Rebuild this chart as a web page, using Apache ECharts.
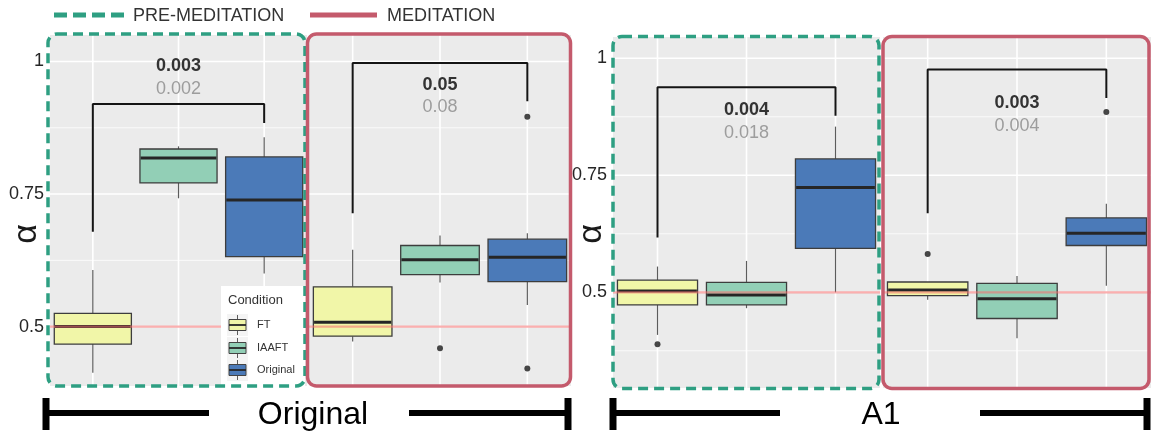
<!DOCTYPE html>
<html>
<head>
<meta charset="utf-8">
<script src="https://cdn.jsdelivr.net/npm/echarts@6/dist/echarts.min.js"></script>
<style>
  html, body { margin: 0; padding: 0; background: #ffffff; }
  #chart { width: 1151px; height: 434px; }
</style>
</head>
<body>
<div id="chart"></div>
<script>
// ---- data ----------------------------------------------------------------
const conditions = ['FT', 'IAAFT', 'Original'];
const phases = ['PRE-MEDITATION', 'MEDITATION'];
const signals = ['Original', 'A1'];
const yTickValues = [0.5, 0.75, 1];
const yGridValues = [0.375, 0.5, 0.625, 0.75, 0.875, 1];
const chanceLevel = 0.5;

// box statistics per condition: [lower whisker, Q1, median, Q3, upper whisker]
const originalPreBoxes = [
  [0.413, 0.467, 0.500, 0.525, 0.607],
  [0.742, 0.771, 0.818, 0.835, 0.840],
  [0.600, 0.632, 0.739, 0.820, 0.857]
];
const originalMedBoxes = [
  [0.472, 0.482, 0.508, 0.575, 0.645],
  [0.583, 0.598, 0.626, 0.653, 0.672],
  [0.541, 0.585, 0.631, 0.665, 0.676]
];
const a1PreBoxes = [
  [0.409, 0.473, 0.503, 0.526, 0.555],
  [0.466, 0.473, 0.494, 0.521, 0.567],
  [0.500, 0.594, 0.724, 0.785, 0.854]
];
const a1MedBoxes = [
  [0.484, 0.493, 0.505, 0.522, 0.522],
  [0.402, 0.444, 0.486, 0.519, 0.535],
  [0.514, 0.600, 0.626, 0.659, 0.689]
];

// outliers: [condition, value]
const originalPreOutliers = [];
const originalMedOutliers = [['IAAFT', 0.459], ['Original', 0.896], ['Original', 0.421]];
const a1PreOutliers = [['FT', 0.389]];
const a1MedOutliers = [['FT', 0.582], ['Original', 0.885]];

// FT vs Original comparison bracket: [FT end, bar level, Original end]
const originalPreBracket = [0.679, 0.920, 0.884];
const originalMedBracket = [0.714, 0.997, 0.925];
const a1PreBracket = [0.617, 0.938, 0.877];
const a1MedBracket = [0.669, 0.976, 0.915];

// p-values of the comparison (first: bold, second: grey) and where they sit
const originalPrePValues = ['0.003', '0.002'];
const originalMedPValues = ['0.05', '0.08'];
const a1PrePValues = ['0.004', '0.018'];
const a1MedPValues = ['0.003', '0.004'];
const originalPrePLevels = [0.991, 0.949];
const originalMedPLevels = [0.956, 0.914];
const a1PrePLevels = [0.890, 0.841];
const a1MedPLevels = [0.905, 0.855];

// ---- styling -------------------------------------------------------------
const FONT = '"Liberation Sans", Arial, sans-serif';
const GREEN = '#2e9f82';
const RED = '#c45a6c';
const BOX_COLORS = ['#f1f6a8', '#92cfb6', '#4b7ab8'];
const PANEL_BG = '#ebebeb';

const facets = [
  { left: 50,  top: 35, width: 257, height: 351, min: 0.388,  max: 1.050,  labels: true,
    boxes: originalPreBoxes, outliers: originalPreOutliers, bracket: originalPreBracket,
    pValues: originalPrePValues, pLevels: originalPrePLevels },
  { left: 309, top: 35, width: 262, height: 351, min: 0.388,  max: 1.050,  labels: false,
    boxes: originalMedBoxes, outliers: originalMedOutliers, bracket: originalMedBracket,
    pValues: originalMedPValues, pLevels: originalMedPLevels },
  { left: 613, top: 37, width: 267, height: 351, min: 0.2955, max: 1.0455, labels: true,
    boxes: a1PreBoxes, outliers: a1PreOutliers, bracket: a1PreBracket,
    pValues: a1PrePValues, pLevels: a1PrePLevels },
  { left: 883, top: 37, width: 270, height: 351, min: 0.2955, max: 1.0455, labels: false,
    boxes: a1MedBoxes, outliers: a1MedOutliers, bracket: a1MedBracket,
    pValues: a1MedPValues, pLevels: a1MedPLevels }
];

// ---- render helpers ------------------------------------------------------
function renderHGrid(params, api) {
  const cs = params.coordSys;
  const v = api.value(1);
  const y = api.coord([0, v])[1];
  if (y < cs.y - 0.5 || y > cs.y + cs.height + 0.5) return null;
  const major = yTickValues.indexOf(v) >= 0;
  return {
    type: 'line',
    shape: { x1: cs.x, y1: y, x2: cs.x + cs.width, y2: y },
    style: { stroke: '#ffffff', lineWidth: major ? 1.6 : 0.8 }
  };
}

function renderVGrid(params, api) {
  const cs = params.coordSys;
  const x = api.coord([api.value(0), 0.5])[0];
  return {
    type: 'line',
    shape: { x1: x, y1: cs.y, x2: x, y2: cs.y + cs.height },
    style: { stroke: '#ffffff', lineWidth: 1.6 }
  };
}

function renderRefLine(params, api) {
  const cs = params.coordSys;
  const y = api.coord([0, api.value(1)])[1];
  return {
    type: 'line',
    shape: { x1: cs.x, y1: y, x2: cs.x + cs.width, y2: y },
    style: { stroke: 'rgba(248, 110, 110, 0.55)', lineWidth: 2.2 }
  };
}

function renderBox(params, api) {
  const idx = api.value(0);
  const lo = api.coord([idx, api.value(1)]);
  const q1 = api.coord([idx, api.value(2)]);
  const md = api.coord([idx, api.value(3)]);
  const q3 = api.coord([idx, api.value(4)]);
  const hi = api.coord([idx, api.value(5)]);
  const w = api.size([1, 0])[0] * 0.9;
  const x = lo[0];
  const whisker = { stroke: '#5c5c5c', lineWidth: 1.2 };
  return {
    type: 'group',
    children: [
      { type: 'line', shape: { x1: x, y1: hi[1], x2: x, y2: q3[1] }, style: whisker },
      { type: 'line', shape: { x1: x, y1: q1[1], x2: x, y2: lo[1] }, style: whisker },
      { type: 'rect', shape: { x: x - w / 2, y: q3[1], width: w, height: q1[1] - q3[1] },
        style: { fill: BOX_COLORS[idx], stroke: '#3d3d3d', lineWidth: 1.3 } },
      { type: 'line', shape: { x1: x - w / 2 + 0.7, y1: md[1], x2: x + w / 2 - 0.7, y2: md[1] },
        style: { stroke: '#262626', lineWidth: 3 } }
    ]
  };
}

function makePValueRenderer(texts) {
  return function (params, api) {
    const p = api.coord([api.value(0), api.value(1)]);
    const first = params.dataIndex === 0;
    return {
      type: 'text',
      x: p[0], y: p[1],
      style: {
        text: texts[params.dataIndex],
        font: (first ? 'bold ' : '') + '18px ' + FONT,
        fill: first ? '#333333' : '#9d9d9d',
        align: 'center', verticalAlign: 'middle'
      }
    };
  };
}

// ---- option --------------------------------------------------------------
const grids = [], xAxes = [], yAxes = [], series = [];

facets.forEach((f, i) => {
  grids.push({
    left: f.left, top: f.top, width: f.width, height: f.height,
    show: true, backgroundColor: PANEL_BG, borderWidth: 0
  });
  xAxes.push({
    type: 'category', gridIndex: i, data: conditions, boundaryGap: true,
    axisLine: { show: false }, axisTick: { show: false },
    axisLabel: { show: false }, splitLine: { show: false }
  });
  yAxes.push({
    type: 'value', gridIndex: i, min: f.min, max: f.max,
    axisLine: { show: false }, axisTick: { show: false }, splitLine: { show: false },
    axisLabel: {
      show: f.labels, customValues: yTickValues, margin: 6,
      color: '#262626', fontSize: 18, fontFamily: FONT
    }
  });
  const axes = { xAxisIndex: i, yAxisIndex: i };
  series.push(Object.assign({
    type: 'custom', name: 'hgrid' + i, z: 1, silent: true,
    renderItem: renderHGrid, data: yGridValues.map(v => [0, v])
  }, axes));
  series.push(Object.assign({
    type: 'custom', name: 'vgrid' + i, z: 1, silent: true,
    renderItem: renderVGrid, data: conditions.map((c, k) => [k, 0.5])
  }, axes));
  series.push(Object.assign({
    type: 'custom', name: phases[i % 2] + ' ' + signals[Math.floor(i / 2)], z: 3,
    renderItem: renderBox, encode: { x: 0, y: [1, 2, 3, 4, 5] },
    data: f.boxes.map((b, k) => [k].concat(b))
  }, axes));
  series.push(Object.assign({
    type: 'custom', name: 'chance' + i, z: 5, silent: true,
    renderItem: renderRefLine, data: [[0, chanceLevel]]
  }, axes));
  series.push(Object.assign({
    type: 'scatter', name: 'outliers' + i, z: 6, symbolSize: 6,
    itemStyle: { color: '#1a1a1a' },
    data: f.outliers.map(o => [conditions.indexOf(o[0]), o[1]])
  }, axes));
  series.push(Object.assign({
    type: 'line', name: 'bracket' + i, z: 7, symbol: 'none', silent: true,
    lineStyle: { color: '#141414', width: 2 },
    data: [[0, f.bracket[0]], [0, f.bracket[1]], [2, f.bracket[1]], [2, f.bracket[2]]]
  }, axes));
  series.push(Object.assign({
    type: 'custom', name: 'pvalues' + i, z: 8, silent: true,
    renderItem: makePValueRenderer(f.pValues),
    data: f.pLevels.map(v => [1, v])
  }, axes));
});

// legend of conditions (inside the first panel)
const legendItems = [
  { type: 'rect', z: 40, shape: { x: 221, y: 286, width: 84, height: 102 },
    style: { fill: '#ffffff' } },
  { type: 'text', z: 41, x: 228, y: 300,
    style: { text: 'Condition', font: '13px ' + FONT, fill: '#333', verticalAlign: 'middle' } }
];
const legendY = [325, 348, 370];
conditions.forEach((c, k) => {
  const y = legendY[k];
  legendItems.push(
    { type: 'rect', z: 41, shape: { x: 227, y: y - 11, width: 21, height: 22 },
      style: { fill: '#f4f4f4' } },
    { type: 'line', z: 42, shape: { x1: 237.5, y1: y - 10, x2: 237.5, y2: y + 10 },
      style: { stroke: '#5c5c5c', lineWidth: 1 } },
    { type: 'rect', z: 43, shape: { x: 229, y: y - 5.5, width: 17, height: 11 },
      style: { fill: BOX_COLORS[k], stroke: '#444', lineWidth: 1 } },
    { type: 'line', z: 44, shape: { x1: 229, y1: y, x2: 246, y2: y },
      style: { stroke: '#262626', lineWidth: 1.8 } },
    { type: 'text', z: 44, x: 257, y: y,
      style: { text: c, font: '11px ' + FONT, fill: '#333', verticalAlign: 'middle' } }
  );
});

function rangeBar(x1, x2, textX, label, capLeft, capRight) {
  return [
    { type: 'line', shape: { x1: x1, y1: 413, x2: capLeft, y2: 413 },
      style: { stroke: '#000', lineWidth: 6 } },
    { type: 'line', shape: { x1: capRight, y1: 413, x2: x2, y2: 413 },
      style: { stroke: '#000', lineWidth: 6 } },
    { type: 'line', shape: { x1: x1, y1: 398, x2: x1, y2: 430 },
      style: { stroke: '#000', lineWidth: 7 } },
    { type: 'line', shape: { x1: x2, y1: 398, x2: x2, y2: 430 },
      style: { stroke: '#000', lineWidth: 7 } },
    { type: 'text', x: textX, y: 415,
      style: { text: label, font: '32px ' + FONT, fill: '#000', align: 'center', verticalAlign: 'middle' } }
  ];
}

const graphic = [
  // top legend: phase frames
  { type: 'line', shape: { x1: 54, y1: 15, x2: 124, y2: 15 },
    style: { stroke: GREEN, lineWidth: 5, lineDash: [13, 6] } },
  { type: 'text', x: 133, y: 16,
    style: { text: phases[0], font: '18px ' + FONT, fill: '#333', verticalAlign: 'middle' } },
  { type: 'line', shape: { x1: 310, y1: 15, x2: 377, y2: 15 },
    style: { stroke: RED, lineWidth: 5 } },
  { type: 'text', x: 387, y: 16,
    style: { text: phases[1], font: '18px ' + FONT, fill: '#333', verticalAlign: 'middle' } },

  // y-axis titles
  { type: 'text', x: 27, y: 234, rotation: Math.PI / 2,
    style: { text: 'α', font: '34px ' + FONT, fill: '#1a1a1a', align: 'center', verticalAlign: 'middle' } },
  { type: 'text', x: 592, y: 234, rotation: Math.PI / 2,
    style: { text: 'α', font: '34px ' + FONT, fill: '#1a1a1a', align: 'center', verticalAlign: 'middle' } },

  // phase frames
  { type: 'rect', z: 100, shape: { x: 48, y: 34, width: 257, height: 352, r: 9 },
    style: { fill: 'none', stroke: GREEN, lineWidth: 3.5, lineDash: [10, 6] } },
  { type: 'rect', z: 100, shape: { x: 307.5, y: 34, width: 263, height: 352, r: 9 },
    style: { fill: 'none', stroke: RED, lineWidth: 3.5 } },
  { type: 'rect', z: 100, shape: { x: 613, y: 36.5, width: 266, height: 352, r: 9 },
    style: { fill: 'none', stroke: GREEN, lineWidth: 3.5, lineDash: [10, 6] } },
  { type: 'rect', z: 100, shape: { x: 883, y: 36.5, width: 266, height: 352, r: 9 },
    style: { fill: 'none', stroke: RED, lineWidth: 3.5 } }
].concat(legendItems)
 .concat(rangeBar(46, 568, 313, signals[0], 209, 409))
 .concat(rangeBar(613, 1147, 881, signals[1], 780, 980));

const chart = echarts.init(document.getElementById('chart'), null, { renderer: 'canvas' });
chart.setOption({
  animation: false,
  backgroundColor: '#ffffff',
  grid: grids,
  xAxis: xAxes,
  yAxis: yAxes,
  series: series,
  graphic: graphic
});
</script>
</body>
</html>
